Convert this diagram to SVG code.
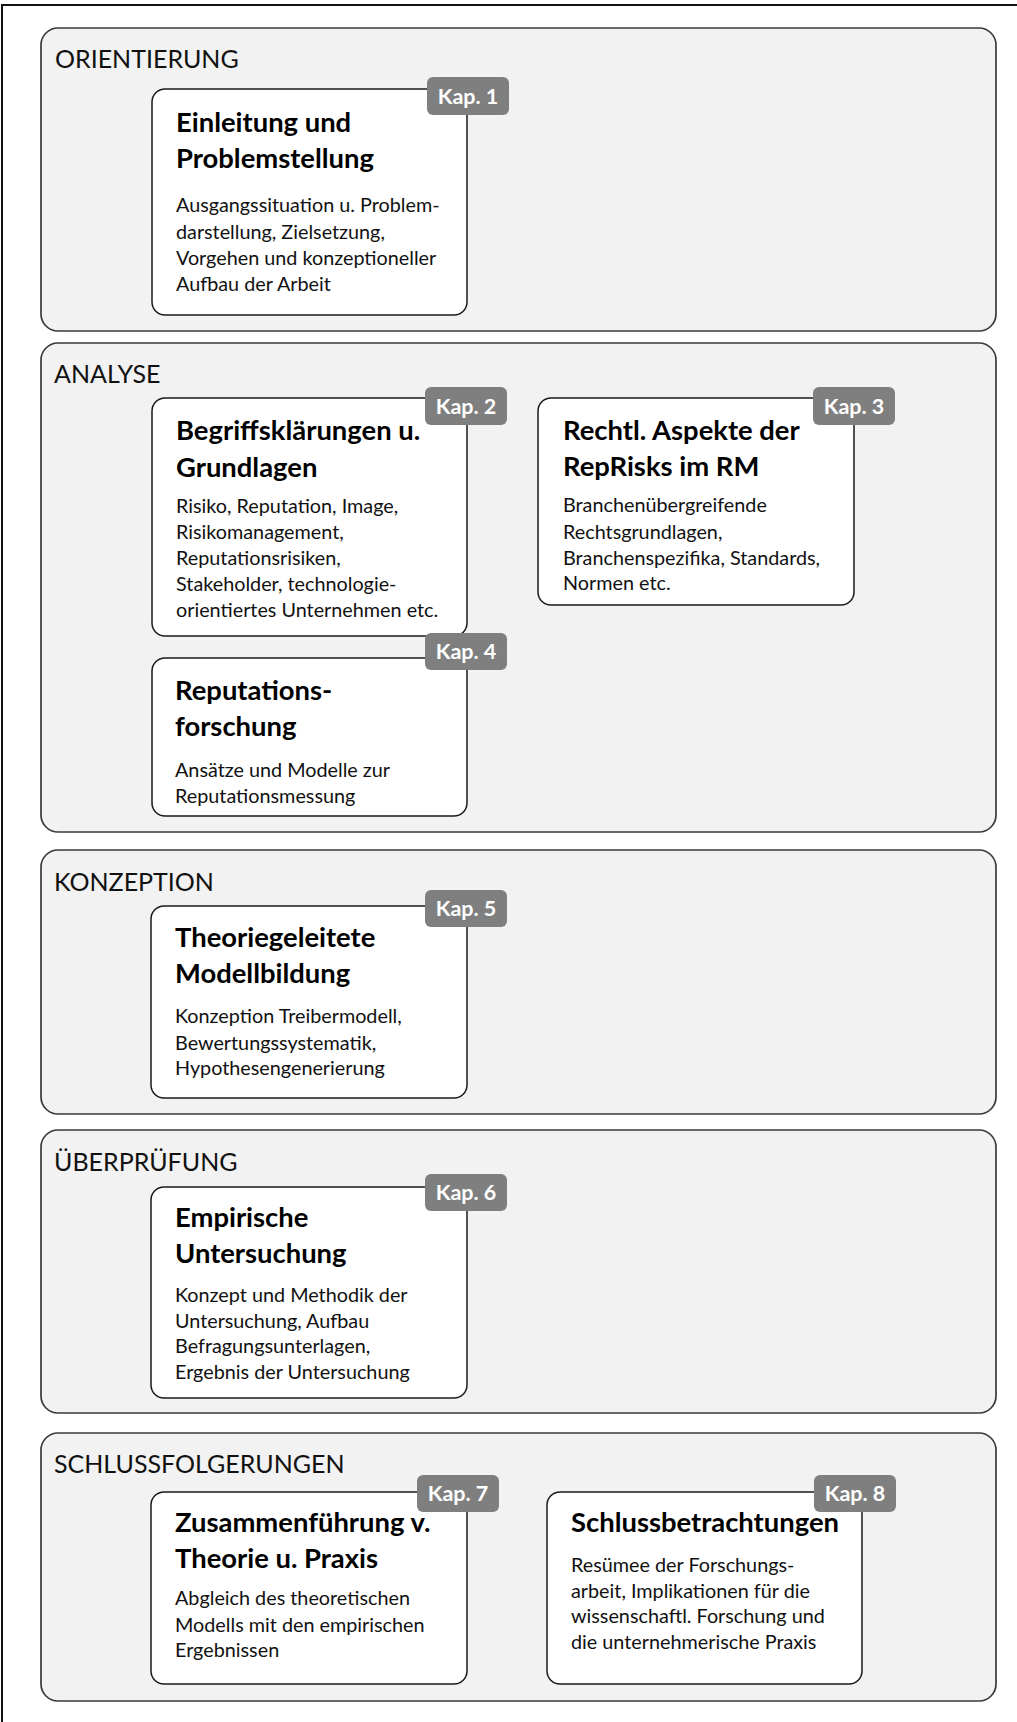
<svg xmlns="http://www.w3.org/2000/svg" width="1017" height="1722" viewBox="0 0 1017 1722">
  <style>
    .frame { fill: #ffffff; stroke: #111111; stroke-width: 2; }
    .phase { fill: #f2f2f2; stroke: #3a3a3a; stroke-width: 1.7; }
    .phase-label { font-family: Lato, "Liberation Sans", sans-serif; font-size: 25px; fill: #111111; }
    .card { fill: #ffffff; stroke: #1a1a1a; stroke-width: 1.5; }
    .badge { fill: #7f7f7f; }
    .badge-text { font-family: Lato, "Liberation Sans", sans-serif; font-size: 21.5px; font-weight: bold; fill: #ffffff; text-anchor: middle; }
    .title { font-family: Lato, "Liberation Sans", sans-serif; font-size: 27.4px; font-weight: bold; fill: #000000; }
    .body { font-family: Lato, "Liberation Sans", sans-serif; font-size: 19.8px; fill: #111111; }
  </style>

  <!-- outer frame, open to the right and bottom -->
  <rect class="frame" x="2" y="5" width="1040" height="1740"/>

  <!-- phase panels -->
  <g id="phase-orientierung">
    <rect class="phase" x="41" y="28" width="955" height="303" rx="17"/>
    <text class="phase-label" x="55" y="68">ORIENTIERUNG</text>
  </g>
  <g id="phase-analyse">
    <rect class="phase" x="41" y="343" width="955" height="489" rx="17"/>
    <text class="phase-label" x="54" y="383">ANALYSE</text>
  </g>
  <g id="phase-konzeption">
    <rect class="phase" x="41" y="850" width="955" height="264" rx="17"/>
    <text class="phase-label" x="54" y="891">KONZEPTION</text>
  </g>
  <g id="phase-ueberpruefung">
    <rect class="phase" x="41" y="1130" width="955" height="283" rx="17"/>
    <text class="phase-label" x="54" y="1171">ÜBERPRÜFUNG</text>
  </g>
  <g id="phase-schlussfolgerungen">
    <rect class="phase" x="41" y="1433" width="955" height="268" rx="17"/>
    <text class="phase-label" x="54" y="1473">SCHLUSSFOLGERUNGEN</text>
  </g>

  <!-- no links between the chapters -->
  <g id="connectors"/>

  <!-- chapter cards -->
  <g id="kap1">
    <rect class="card" x="152" y="89" width="315" height="226" rx="13"/>
    <rect class="badge" x="427" y="77" width="82" height="38" rx="6"/>
    <text class="badge-text" x="468" y="104">Kap. 1</text>
    <text class="title" x="176" y="132">Einleitung und</text>
    <text class="title" x="176" y="168">Problemstellung</text>
    <text class="body" x="176" y="212">Ausgangssituation u. Problem-</text>
    <text class="body" x="176" y="239">darstellung, Zielsetzung,</text>
    <text class="body" x="176" y="265">Vorgehen und konzeptioneller</text>
    <text class="body" x="176" y="291">Aufbau der Arbeit</text>
  </g>

  <g id="kap2">
    <rect class="card" x="152" y="398" width="315" height="238" rx="13"/>
    <rect class="badge" x="425" y="387" width="82" height="38" rx="6"/>
    <text class="badge-text" x="466" y="414">Kap. 2</text>
    <text class="title" x="176" y="440">Begriffsklärungen u.</text>
    <text class="title" x="176" y="477">Grundlagen</text>
    <text class="body" x="176" y="513">Risiko, Reputation, Image,</text>
    <text class="body" x="176" y="539">Risikomanagement,</text>
    <text class="body" x="176" y="565">Reputationsrisiken,</text>
    <text class="body" x="176" y="591">Stakeholder, technologie-</text>
    <text class="body" x="176" y="617">orientiertes Unternehmen etc.</text>
  </g>

  <g id="kap3">
    <rect class="card" x="538" y="398" width="316" height="207" rx="13"/>
    <rect class="badge" x="813" y="387" width="82" height="38" rx="6"/>
    <text class="badge-text" x="854" y="414">Kap. 3</text>
    <text class="title" x="563" y="440">Rechtl. Aspekte der</text>
    <text class="title" x="563" y="476">RepRisks im RM</text>
    <text class="body" x="563" y="512">Branchenübergreifende</text>
    <text class="body" x="563" y="539">Rechtsgrundlagen,</text>
    <text class="body" x="563" y="565">Branchenspezifika, Standards,</text>
    <text class="body" x="563" y="590">Normen etc.</text>
  </g>

  <g id="kap4">
    <rect class="card" x="152" y="658" width="315" height="158" rx="13"/>
    <rect class="badge" x="425" y="633" width="82" height="37" rx="6"/>
    <text class="badge-text" x="466" y="659">Kap. 4</text>
    <text class="title" x="175" y="700">Reputations-</text>
    <text class="title" x="175" y="736">forschung</text>
    <text class="body" x="175" y="777">Ansätze und Modelle zur</text>
    <text class="body" x="175" y="803">Reputationsmessung</text>
  </g>

  <g id="kap5">
    <rect class="card" x="151" y="906" width="316" height="192" rx="13"/>
    <rect class="badge" x="425" y="890" width="82" height="37" rx="6"/>
    <text class="badge-text" x="466" y="916">Kap. 5</text>
    <text class="title" x="175" y="947">Theoriegeleitete</text>
    <text class="title" x="175" y="983">Modellbildung</text>
    <text class="body" x="175" y="1023">Konzeption Treibermodell,</text>
    <text class="body" x="175" y="1050">Bewertungssystematik,</text>
    <text class="body" x="175" y="1075">Hypothesengenerierung</text>
  </g>

  <g id="kap6">
    <rect class="card" x="151" y="1187" width="316" height="211" rx="13"/>
    <rect class="badge" x="425" y="1174" width="82" height="37" rx="6"/>
    <text class="badge-text" x="466" y="1200">Kap. 6</text>
    <text class="title" x="175" y="1227">Empirische</text>
    <text class="title" x="175" y="1263">Untersuchung</text>
    <text class="body" x="175" y="1302">Konzept und Methodik der</text>
    <text class="body" x="175" y="1328">Untersuchung, Aufbau</text>
    <text class="body" x="175" y="1353">Befragungsunterlagen,</text>
    <text class="body" x="175" y="1379">Ergebnis der Untersuchung</text>
  </g>

  <g id="kap7">
    <rect class="card" x="151" y="1492" width="316" height="192" rx="13"/>
    <rect class="badge" x="417" y="1475" width="82" height="37" rx="6"/>
    <text class="badge-text" x="458" y="1501">Kap. 7</text>
    <text class="title" x="175" y="1532">Zusammenführung v.</text>
    <text class="title" x="175" y="1568">Theorie u. Praxis</text>
    <text class="body" x="175" y="1605">Abgleich des theoretischen</text>
    <text class="body" x="175" y="1632">Modells mit den empirischen</text>
    <text class="body" x="175" y="1657">Ergebnissen</text>
  </g>

  <g id="kap8">
    <rect class="card" x="547" y="1492" width="315" height="192" rx="13"/>
    <rect class="badge" x="814" y="1475" width="82" height="37" rx="6"/>
    <text class="badge-text" x="855" y="1501">Kap. 8</text>
    <text class="title" x="571" y="1532">Schlussbetrachtungen</text>
    <text class="body" x="571" y="1572">Resümee der Forschungs-</text>
    <text class="body" x="571" y="1598">arbeit, Implikationen für die</text>
    <text class="body" x="571" y="1623">wissenschaftl. Forschung und</text>
    <text class="body" x="571" y="1649">die unternehmerische Praxis</text>
  </g>
</svg>
